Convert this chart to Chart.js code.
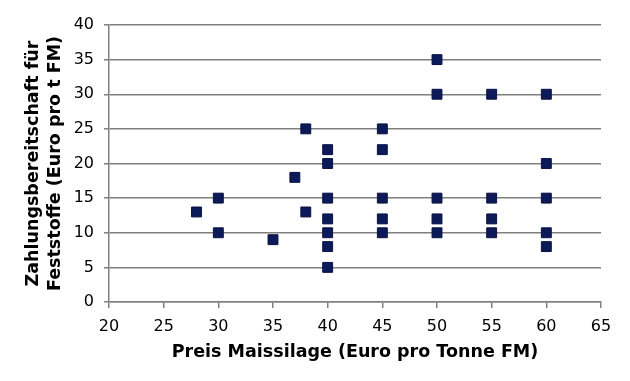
<!DOCTYPE html>
<html>
<head>
<meta charset="utf-8">
<script src="https://cdn.jsdelivr.net/npm/chart.js@4/dist/chart.umd.min.js"></script>
<style>
html,body{margin:0;padding:0;background:#fff;}
#wrap{width:630px;height:381px;position:relative;}
</style>
</head>
<body>
<div id="wrap"><canvas id="c" width="630" height="381"></canvas></div>
<script>
const priceX = [28, 30, 30, 35, 37, 38, 38, 40, 40, 40, 40, 40, 40, 40, 45, 45, 45, 45, 45, 50, 50, 50, 50, 50, 55, 55, 55, 55, 60, 60, 60, 60, 60];
const willingnessY = [13, 15, 10, 9, 18, 25, 13, 22, 20, 15, 12, 10, 8, 5, 25, 22, 15, 12, 10, 35, 30, 15, 12, 10, 30, 15, 12, 10, 30, 20, 15, 10, 8];
const xTitle = 'Preis Maissilage (Euro pro Tonne FM)';
const yTitle = ['Zahlungsbereitschaft für', 'Feststoffe (Euro pro t FM)'];

const points = priceX.map((x, i) => ({x: x, y: willingnessY[i]}));
const FONT = 'DejaVu Sans, Verdana, sans-serif';

new Chart(document.getElementById('c'), {
  type: 'scatter',
  data: {
    datasets: [{
      data: points,
      pointStyle: 'rect',
      pointRadius: 7,
      pointHoverRadius: 7,
      backgroundColor: '#0d1a5a',
      borderColor: '#0a1240',
      borderWidth: 1
    }]
  },
  options: {
    responsive: false,
    animation: false,
    devicePixelRatio: 1,
    layout: {padding: {top: 25, right: 29, left: 0, bottom: 0}},
    plugins: {legend: {display: false}, tooltip: {enabled: false}},
    scales: {
      x: {
        type: 'linear',
        min: 20, max: 65,
        afterFit: s => { s.height = 79; },
        ticks: {stepSize: 5, color: '#000', font: {family: FONT, size: 16}, padding: 9, maxRotation: 0},
        grid: {drawOnChartArea: false, drawTicks: true, tickLength: 6, color: '#808080', lineWidth: 1.5},
        border: {display: true, color: '#808080', width: 1.5},
        title: {display: true, text: xTitle, color: '#000', font: {family: FONT, size: 17.5, weight: 'bold'}, padding: {bottom: 18, top: 0}}
      },
      y: {
        min: 0, max: 40,
        afterFit: s => { s.width = 109; },
        ticks: {stepSize: 5, color: '#000', font: {family: FONT, size: 16}, padding: 10},
        grid: {drawOnChartArea: true, drawTicks: true, tickLength: 5, color: '#808080', lineWidth: 1.5},
        border: {display: true, color: '#808080', width: 1.5},
        title: {display: true, text: yTitle, color: '#000', font: {family: FONT, size: 17.5, weight: 'bold', lineHeight: 1.26}, padding: {top: 22, bottom: 0}}
      }
    }
  }
});
</script>
</body>
</html>
